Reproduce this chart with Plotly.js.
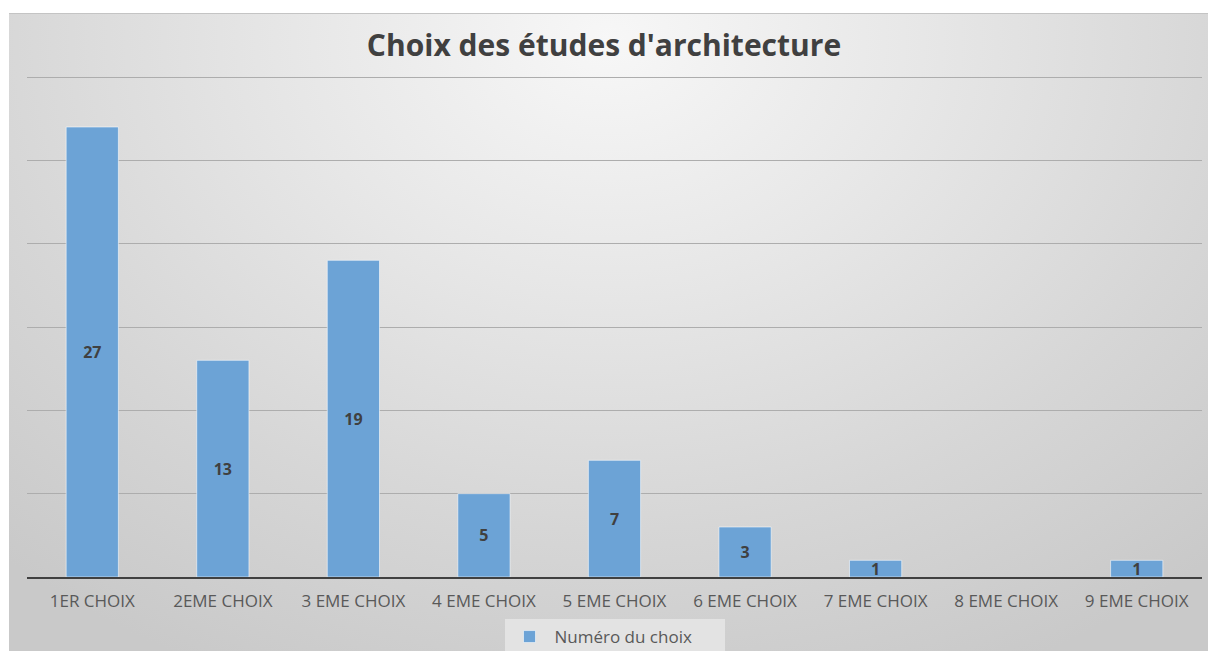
<!DOCTYPE html>
<html>
<head>
<meta charset="utf-8">
<script src="https://cdn.plot.ly/plotly-3.0.1.min.js"></script>
<style>
  html, body { margin: 0; padding: 0; background: #ffffff; width: 1208px; height: 651px; overflow: hidden; }
  #bg { position: absolute; left: 9px; top: 13px; width: 1199px; height: 638px;
        border-top: 1px solid #c4c4c4; box-sizing: border-box;
        background: radial-gradient(ellipse 75% 110% at 50% 4%, #f7f7f7 0%, #e7e7e7 35%, #d6d6d6 70%, #c9c9c9 100%); }
  #chart { position: absolute; left: 0; top: 0; width: 1208px; height: 651px; }
</style>
</head>
<body>
<div id="bg"></div>
<div id="chart"></div>
<script>
const categories = ["1ER CHOIX", "2EME CHOIX", "3 EME CHOIX", "4 EME CHOIX", "5 EME CHOIX", "6 EME CHOIX", "7 EME CHOIX", "8 EME CHOIX", "9 EME CHOIX"];
const values = [27, 13, 19, 5, 7, 3, 1, 0, 1];
const labels = ["27", "13", "19", "5", "7", "3", "1", "", "1"];
const seriesName = "Numéro du choix";
const chartTitle = "Choix des études d'architecture";

const trace = {
  type: "bar",
  x: categories,
  y: values,
  name: seriesName,
  text: labels,
  textposition: "inside",
  insidetextanchor: "middle",
  constraintext: "none",
  textangle: 0,
  textfont: { family: "Open Sans", size: 16, color: "#404040", weight: "bold" },
  marker: { color: "#6ca3d6", line: { color: "rgba(255,255,255,0.55)", width: values.map(v => v > 0 ? 1 : 0) } },
  hoverinfo: "x+y",
  showlegend: true
};

const layout = {
  width: 1208,
  height: 651,
  margin: { l: 27, r: 6, t: 72, b: 74, autoexpand: false },
  paper_bgcolor: "rgba(0,0,0,0)",
  plot_bgcolor: "rgba(0,0,0,0)",
  bargap: 0.6,
  font: { family: "Open Sans", color: "#595959" },
  title: {
    text: "<b>" + chartTitle + "</b>",
    font: { family: "Open Sans", size: 30, color: "#404040" },
    x: 0.5, xanchor: "center",
    y: 1 - 45 / 651, yanchor: "middle", yref: "container"
  },
  xaxis: {
    type: "category",
    showline: true,
    linecolor: "#404040",
    linewidth: 2,
    ticks: "",
    ticklabelstandoff: 8,
    tickfont: { family: "Open Sans", size: 17, color: "#595959" },
    showgrid: false,
    zeroline: false
  },
  yaxis: {
    range: [0, 30.3],
    dtick: 5,
    showticklabels: false,
    showgrid: true,
    gridcolor: "#adadad",
    gridwidth: 1,
    zeroline: false,
    fixedrange: true
  },
  showlegend: true,
  legend: {
    orientation: "h",
    x: 0.5, xanchor: "center",
    yref: "container",
    y: 1 - 619 / 651, yanchor: "top",
    bgcolor: "#e3e3e3",
    font: { family: "Open Sans", size: 17, color: "#595959" },
    itemwidth: 40,
    entrywidth: 165
  }
};

Plotly.newPlot("chart", [trace], layout, { displayModeBar: false, staticPlot: true });
</script>
</body>
</html>
